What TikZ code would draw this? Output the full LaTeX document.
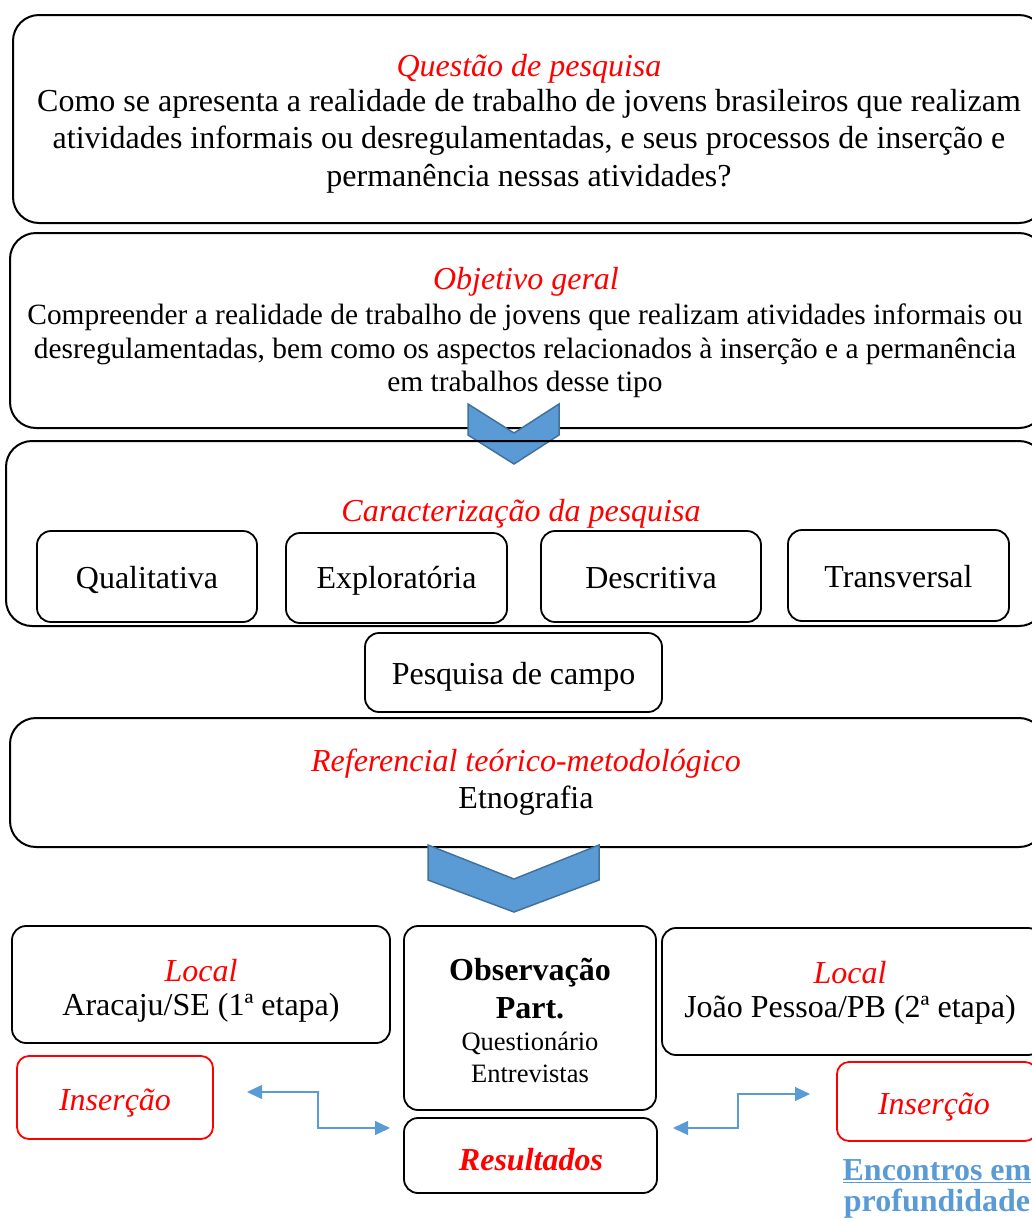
\documentclass[tikz,border=0pt]{standalone}
\usepackage{fontspec}
\setmainfont{Liberation Serif}
\usetikzlibrary{arrows.meta}
\definecolor{wblue}{HTML}{5B9BD5}
\definecolor{wblueD}{HTML}{41719C}
\definecolor{wred}{HTML}{FF0000}
\tikzset{
 bigbox/.style={draw=black, line width=2pt, rounded corners=26pt, inner sep=0pt},
 smallbox/.style={draw=black, line width=1.8pt, rounded corners=14pt, inner sep=0pt},
 redbox/.style={draw=wred, line width=1.8pt, rounded corners=12pt, inner sep=0pt},
 ttl/.style={text=wred, font=\fontsize{32}{37}\selectfont\itshape, inner sep=0pt},
 body/.style={font=\fontsize{32}{37.5}\selectfont, align=center, inner sep=0pt},
 body2/.style={font=\fontsize{29.4}{33.5}\selectfont, align=center, inner sep=0pt},
 lbl/.style={font=\fontsize{32}{37}\selectfont, inner sep=0pt},
 boxlbl/.style={font=\fontsize{32}{37}\selectfont, inner sep=0pt, text height=22pt, text depth=7pt},
 small/.style={font=\fontsize{26.5}{31}\selectfont, inner sep=0pt},
 chev/.style={fill=wblue, draw=wblueD, line width=1.5pt, line join=miter},
 link/.style={draw=wblue, line width=1.2pt, {Triangle[length=15pt,width=14pt]}-{Triangle[length=15pt,width=14pt]}},
}
\begin{document}
\begin{tikzpicture}[x=1pt,y=-1pt]
\useasboundingbox (0,0) rectangle (1032,1219);
% Questao box
\node[bigbox, minimum width=1032pt, minimum height=208pt] (q) at (529,119) {};
\node[ttl] (qt) at (529,69) {Questão de pesquisa};
\node[body] (qb) at (529,141) {Como se apresenta a realidade de trabalho de jovens brasileiros que realizam\\atividades informais ou desregulamentadas, e seus processos de inserção e\\permanência nessas atividades?};
% Objetivo box
\node[bigbox, minimum width=1035pt, minimum height=195pt] (o) at (527.5,330.5) {};
\node[ttl] (ot) at (526,282) {Objetivo geral};
\node[body2] (ob) at (525,351) {Compreender a realidade de trabalho de jovens que realizam atividades informais ou\\desregulamentadas, bem como os aspectos relacionados à inserção e a permanência\\em trabalhos desse tipo};
% chevron 1
\draw[chev] (468,404) -- (514,433) -- (559,404) -- (559,435) -- (514,464) -- (468,435) -- cycle;
% Caracterizacao box
\node[bigbox, minimum width=1039pt, minimum height=185pt] (c) at (525.5,533.5) {};
\node[ttl] (ct) at (521,514) {Caracterização da pesquisa};
\node[smallbox, minimum width=220pt, minimum height=91pt] (c1) at (147,576.5) {};
\node[boxlbl] (c1t) at (147,581) {Qualitativa};
\node[smallbox, minimum width=221pt, minimum height=90pt] (c2) at (396.5,578) {};
\node[boxlbl] (c2t) at (396.5,581) {Exploratória};
\node[smallbox, minimum width=220pt, minimum height=91pt] (c3) at (651,576.5) {};
\node[boxlbl] (c3t) at (651,581) {Descritiva};
\node[smallbox, minimum width=221pt, minimum height=91pt] (c4) at (898.5,575.5) {};
\node[boxlbl] (c4t) at (898.5,580) {Transversal};
% Pesquisa de campo
\node[smallbox, minimum width=297pt, minimum height=79pt] (pc) at (513.5,672.5) {};
\node[boxlbl] (pct) at (513.5,677) {Pesquisa de campo};
% Referencial box
\node[bigbox, minimum width=1035pt, minimum height=129pt] (r) at (527.5,782.5) {};
\node[ttl] (rt) at (526,764) {Referencial teórico-metodológico};
\node[lbl] (rb) at (526,801) {Etnografia};
% chevron 2
\draw[chev] (428,845) -- (514,879) -- (599,845) -- (599,880) -- (514,912) -- (428,880) -- cycle;
% Local Aracaju
\node[smallbox, minimum width=378pt, minimum height=117pt] (l1) at (201,984.5) {};
\node[ttl] (l1t) at (201,971) {Local};
\node[lbl] (l1b) at (201,1008) {Aracaju/SE (1ª etapa)};
% Observacao
\node[smallbox, minimum width=252pt, minimum height=184pt] (ob2) at (530,1018) {};
\node[lbl, font=\fontsize{32}{37}\selectfont\bfseries] (obt) at (530,973) {Observação};
\node[lbl, font=\fontsize{32}{37}\selectfont\bfseries] (obp) at (530,1008) {Part.};
\node[small] (obq) at (530,1043) {Questionário};
\node[small] (obe) at (530,1074) {Entrevistas};
% Local Joao Pessoa
\node[smallbox, minimum width=380pt, minimum height=127pt] (l2) at (852,991.5) {};
\node[ttl] (l2t) at (850,973) {Local};
\node[lbl] (l2b) at (850,1010) {João Pessoa/PB (2ª etapa)};
% Insercao boxes
\node[redbox, minimum width=196pt, minimum height=83pt] (i1) at (115,1097.5) {};
\node[boxlbl, text=wred, font=\fontsize{32}{37}\selectfont\itshape] (i1t) at (115,1102.5) {Inserção};
\node[redbox, minimum width=200pt, minimum height=79pt] (i2) at (937,1101.5) {};
\node[boxlbl, text=wred, font=\fontsize{32}{37}\selectfont\itshape] (i2t) at (934,1106.5) {Inserção};
% Resultados
\node[smallbox, minimum width=253pt, minimum height=75pt] (res) at (530.5,1155.5) {};
\node[boxlbl, text=wred, font=\fontsize{32}{37}\selectfont\bfseries\itshape] (rest) at (531,1162.5) {Resultados};
% Encontros
\node[lbl, text=wblue, font=\fontsize{32}{37}\selectfont\bfseries] (enc) at (937,1171) {\underline{Encontros em}};
\node[lbl, text=wblue, font=\fontsize{32}{37}\selectfont\bfseries] (prof) at (937,1205) {\underline{profundidade}};
% arrows
\coordinate (a1) at (247,1092);
\coordinate (a2) at (390,1128);
\draw[link] (a1) -- ++(71,0) |- (a2);
\coordinate (b1) at (673,1128);
\coordinate (b2) at (810,1094);
\draw[link] (b1) -- ++(65,0) |- (b2);
\end{tikzpicture}
\end{document}
